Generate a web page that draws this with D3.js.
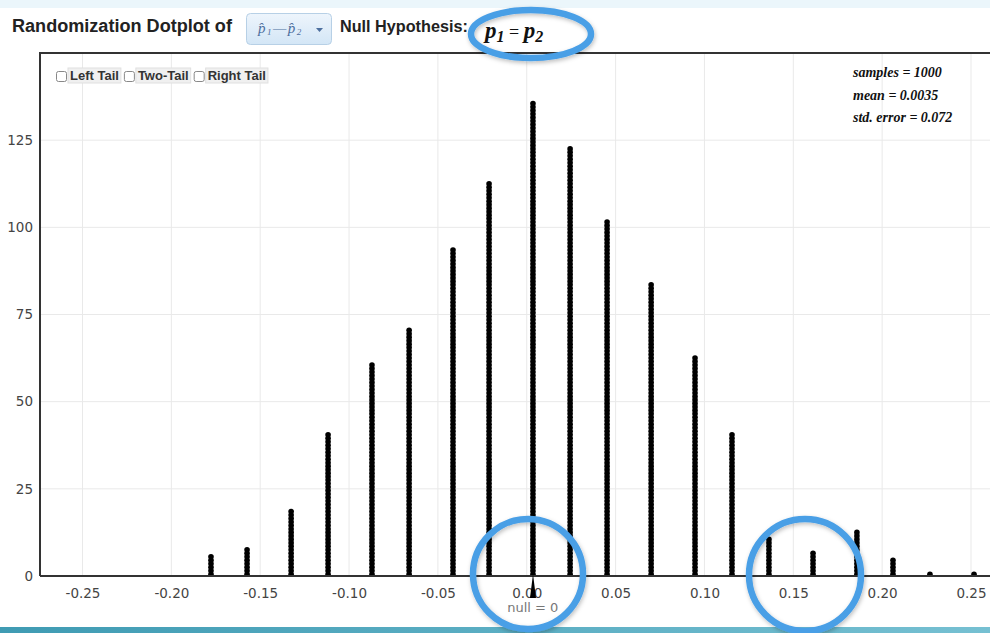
<!DOCTYPE html>
<html>
<head>
<meta charset="utf-8">
<script src="https://cdn.jsdelivr.net/npm/d3@7"></script>
<style>
  html, body { margin: 0; padding: 0; background: #ffffff; overflow: hidden; }
  svg { display: block; }
</style>
</head>
<body>
<svg id="chart" width="990" height="633"></svg>
<script>
// ---- data ----
const diffValues = [-0.1777, -0.1574, -0.1326, -0.1118, -0.0871, -0.0662, -0.0415, -0.0212,
                    0.0035, 0.0244, 0.0452, 0.0700, 0.0947, 0.1155, 0.1363, 0.1611,
                    0.1858, 0.2061, 0.2269, 0.2517];
const counts = [6, 8, 19, 41, 61, 71, 94, 113, 136, 123, 102, 84, 63, 41, 11, 7, 13, 5, 1, 1];
const xTickValues = [-0.25, -0.20, -0.15, -0.10, -0.05, 0.00, 0.05, 0.10, 0.15, 0.20, 0.25];
const xTickLabels = ["-0.25", "-0.20", "-0.15", "-0.10", "-0.05", "0.00", "0.05", "0.10", "0.15", "0.20", "0.25"];
const yTickValues = [0, 25, 50, 75, 100, 125];
const statLines = ["samples = 1000", "mean = 0.0035", "std. error = 0.072"];
const meanValue = 0.0035;
const nullValue = 0;
const tailOptions = ["Left Tail", "Two-Tail", "Right Tail"];

// ---- layout ----
const svg = d3.select("#chart");
const W = 990, H = 633;
const plot = { left: 40, top: 53, right: 1000, bottom: 576 };

const x = d3.scaleLinear().domain([-0.25, 0.25]).range([82.5, 971]);
const y = d3.scaleLinear().domain([0, 150]).range([plot.bottom, plot.top]);

// scale a text's font size so its natural width equals the target
function fitText(sel, width) {
  const len = sel.node().getComputedTextLength();
  const fs = parseFloat(sel.attr("font-size"));
  if (len > 0) sel.attr("font-size", (fs * width / len).toFixed(2));
  return sel;
}

const defs = svg.append("defs");
const gBand = defs.append("linearGradient").attr("id", "band").attr("x1", "0").attr("x2", "1");
gBand.append("stop").attr("offset", "0").attr("stop-color", "#3f9bb3");
gBand.append("stop").attr("offset", "1").attr("stop-color", "#76c0d2");
const gBtn = defs.append("linearGradient").attr("id", "btn").attr("x1", "0").attr("x2", "0").attr("y1", "0").attr("y2", "1");
gBtn.append("stop").attr("offset", "0").attr("stop-color", "#eef5fc");
gBtn.append("stop").attr("offset", "1").attr("stop-color", "#d3e6f6");
const shadow = defs.append("filter").attr("id", "shadow").attr("x", "-20%").attr("y", "-20%").attr("width", "140%").attr("height", "140%");
shadow.append("feDropShadow").attr("dx", 1).attr("dy", 2).attr("stdDeviation", 2).attr("flood-color", "#000").attr("flood-opacity", 0.25);
defs.append("clipPath").attr("id", "plotclip").append("rect")
  .attr("x", plot.left).attr("y", plot.top).attr("width", W - plot.left).attr("height", plot.bottom - plot.top);

// background bands
svg.append("rect").attr("x", 0).attr("y", 0).attr("width", W).attr("height", 8).attr("fill", "#ebf6fb");
svg.append("rect").attr("x", 0).attr("y", 627).attr("width", W).attr("height", 6).attr("fill", "url(#band)");

// ---- header ----
const header = svg.append("g").attr("font-family", "'Liberation Sans', Arial, sans-serif").attr("fill", "#222");
fitText(header.append("text").attr("x", 12).attr("y", 32)
  .attr("font-size", 16).attr("font-weight", "bold")
  .text("Randomization Dotplot of"), 220);

// dropdown button
header.append("rect").attr("x", 246.5).attr("y", 13.5).attr("width", 85).attr("height", 31).attr("rx", 4)
  .attr("fill", "url(#btn)").attr("stroke", "#b7d0e6");
const btnText = header.append("text").attr("x", 258).attr("y", 33)
  .attr("font-family", "'Liberation Serif', serif").attr("font-style", "italic")
  .attr("font-size", 15).attr("letter-spacing", 1.5).attr("fill", "#4d6f9e");
btnText.append("tspan").text("p\u0302");
btnText.append("tspan").attr("font-size", 9).attr("dy", 2).text("1");
btnText.append("tspan").attr("dy", -2).text("\u2014p\u0302");
btnText.append("tspan").attr("font-size", 9).attr("dy", 2).text("2");
header.append("path").attr("d", "M316,28 L323,28 L319.5,32 Z").attr("fill", "#4d6f9e");

fitText(header.append("text").attr("x", 340).attr("y", 32)
  .attr("font-size", 16).attr("font-weight", "bold")
  .text("Null Hypothesis:"), 128);

const hyp = header.append("text").attr("x", 485).attr("y", 38)
  .attr("font-family", "'Liberation Serif', serif").attr("font-style", "italic").attr("font-weight", "bold")
  .attr("font-size", 23).attr("fill", "#111");
hyp.append("tspan").text("p");
hyp.append("tspan").attr("font-size", 16).attr("dy", 4).text("1");
hyp.append("tspan").attr("dy", -4).attr("font-style", "normal").attr("font-weight", "normal").attr("font-size", 18).text(" = ");
hyp.append("tspan").text("p");
hyp.append("tspan").attr("font-size", 16).attr("dy", 4).text("2");

// ---- grid ----
const grid = svg.append("g").attr("clip-path", "url(#plotclip)");
grid.selectAll("line.vg").data(xTickValues).join("line")
  .attr("class", "vg")
  .attr("x1", d => x(d)).attr("x2", d => x(d))
  .attr("y1", plot.top).attr("y2", plot.bottom)
  .attr("stroke", "#e9e9e9").attr("stroke-width", 1);
grid.selectAll("line.hg").data(yTickValues.filter(d => d > 0)).join("line")
  .attr("class", "hg")
  .attr("x1", plot.left).attr("x2", W)
  .attr("y1", d => y(d)).attr("y2", d => y(d))
  .attr("stroke", "#e9e9e9").attr("stroke-width", 1);

// ---- axes (labels only) ----
const xAxis = d3.axisBottom(x).tickValues(xTickValues).tickSize(0).tickPadding(12)
  .tickFormat((d, i) => xTickLabels[i]);
const gx = svg.append("g").attr("transform", `translate(0,${plot.bottom})`).call(xAxis);
gx.select(".domain").remove();
gx.selectAll("text").attr("font-family", "'DejaVu Sans', sans-serif").attr("font-size", 13.5).attr("fill", "#444");

const yAxis = d3.axisLeft(y).tickValues(yTickValues).tickSize(0).tickPadding(7);
const gy = svg.append("g").attr("transform", `translate(${plot.left},0)`).call(yAxis);
gy.select(".domain").remove();
gy.selectAll("text").attr("font-family", "'DejaVu Sans', sans-serif").attr("font-size", 13.5).attr("fill", "#444");

// ---- dots ----
const dots = [];
diffValues.forEach((v, i) => {
  for (let k = 0; k < counts[i]; k++) dots.push({ v, k });
});
svg.append("g").attr("clip-path", "url(#plotclip)")
  .selectAll("circle").data(dots).join("circle")
  .attr("cx", d => x(d.v))
  .attr("cy", d => y(d.k + 0.5))
  .attr("r", 2.8)
  .attr("fill", "#000");

// ---- frame ----
svg.append("path")
  .attr("d", `M${plot.left},${plot.bottom} L${plot.left},${plot.top} L${W},${plot.top}`)
  .attr("fill", "none").attr("stroke", "#333").attr("stroke-width", 2);
svg.append("line").attr("x1", plot.left).attr("x2", W).attr("y1", plot.bottom).attr("y2", plot.bottom)
  .attr("stroke", "#333").attr("stroke-width", 2);

// mean marker and null label
const mx = x(meanValue);
svg.append("path").attr("d", `M${mx},${plot.bottom - 2} L${mx + 3},${plot.bottom + 22} L${mx - 3},${plot.bottom + 22} Z`)
  .attr("fill", "#000");
svg.append("text").attr("x", x(nullValue) + 6).attr("y", 612).attr("text-anchor", "middle")
  .attr("font-family", "'DejaVu Sans', sans-serif").attr("font-size", 13).attr("fill", "#777")
  .text(`null = ${nullValue}`);

// ---- tail checkboxes ----
const tails = svg.append("g").attr("font-family", "'Liberation Sans', Arial, sans-serif");
let cursor = 56;
tailOptions.forEach((t) => {
  tails.append("rect").attr("x", cursor + 0.5).attr("y", 71.5).attr("width", 10).attr("height", 10).attr("rx", 2)
    .attr("fill", "#fff").attr("stroke", "#888");
  const tx = cursor + 14;
  const bg = tails.append("rect").attr("y", 68).attr("height", 15)
    .attr("fill", "#f0f0f0").attr("stroke", "#e0e0e0");
  const txt = tails.append("text").attr("x", tx).attr("y", 80)
    .attr("font-size", 13).attr("font-weight", "bold").attr("fill", "#333")
    .text(t);
  const w = txt.node().getComputedTextLength();
  bg.attr("x", tx - 2).attr("width", w + 4);
  cursor = tx + w + 5;
});

// ---- stats ----
svg.append("g").selectAll("text").data(statLines).join("text")
  .attr("x", 853).attr("y", (d, i) => 77 + i * 22.5)
  .attr("font-family", "'Liberation Serif', serif").attr("font-style", "italic").attr("font-weight", "bold")
  .attr("font-size", 14).attr("fill", "#111")
  .text(d => d);

// ---- annotation circles ----
const ann = svg.append("g").attr("fill", "none").attr("stroke", "#4a9fe6").attr("stroke-width", 6.5).attr("filter", "url(#shadow)");
ann.append("ellipse").attr("cx", 531).attr("cy", 34).attr("rx", 60).attr("ry", 24);
ann.append("circle").attr("cx", 528).attr("cy", 574).attr("r", 55);
ann.append("circle").attr("cx", 805).attr("cy", 575).attr("r", 56);
</script>
</body>
</html>
